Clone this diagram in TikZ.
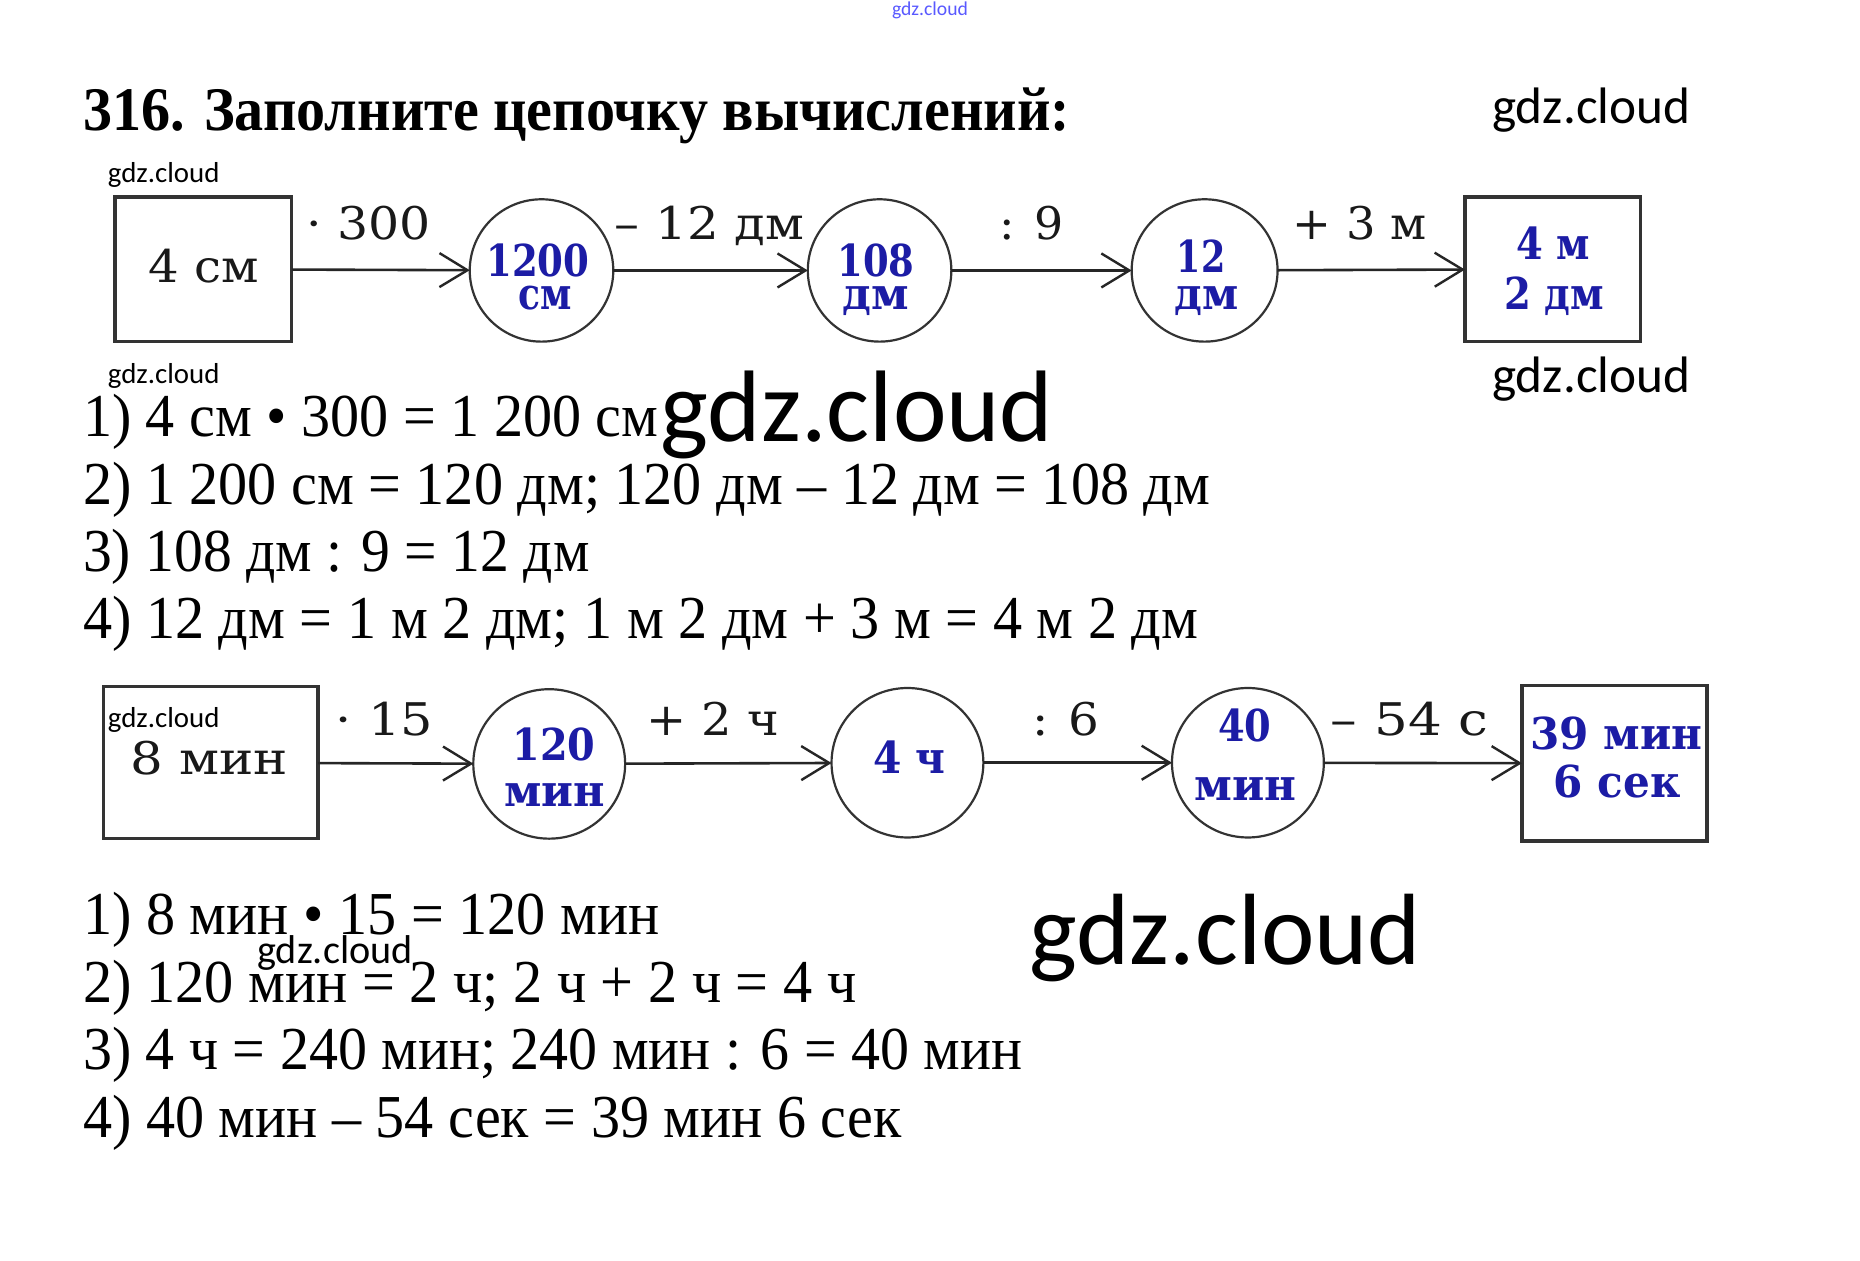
\documentclass[tikz,border=0pt]{standalone}
\usepackage{fontspec}
\usepackage{graphicx}
\setmainfont{Liberation Serif}
\newfontfamily\chainfont{DejaVu Serif}
\newfontfamily\wmfont{Carlito}
\usetikzlibrary{arrows.meta,shapes.geometric}
\newdimen\un \un=0.5931pt
\newcommand\fw[2]{\resizebox{#1\un}{\height}{#2}}
\newcommand\fwk[2]{\resizebox{#1\un}{!}{#2}}
\definecolor{valblue}{RGB}{28,28,165}
\tikzset{
 every node/.style={inner sep=0pt, outer sep=0pt},
 box/.style={draw=black!80, line width=1.6pt, rectangle},
 circ/.style={draw=black!80, line width=1.1pt, ellipse},
 arr/.style={draw=black!85, line width=1.3pt, -{Straight Barb[length=14pt,width=17pt,line width=1.2pt]}},
 calc/.style={anchor=base west, font=\fontsize{30.5}{30.5}\selectfont, text=black},
 lab/.style={anchor=base west, font=\chainfont\fontsize{22.5}{22.5}\selectfont, text=black!90},
 val/.style={anchor=base west, font=\chainfont\bfseries\fontsize{22}{22}\selectfont, text=valblue},
 wmk/.style={anchor=base west, font=\wmfont\fontsize{20}{20}\selectfont, text=black},
}
\begin{document}
\begin{tikzpicture}[x=\un, y=-\un]
\useasboundingbox[fill=white] (0,0) rectangle (1568,1063);

% title
\node[anchor=base west, font=\bfseries\fontsize{31}{31}\selectfont] (title) at (70,110) {\fw{832}{316. Заполните цепочку вычислений:}};

% ---- chain 1 ----
\node[box, minimum width=149\un, minimum height=122\un] (b1) at (171.5,227) {};
\node[circ, minimum width=121\un, minimum height=120\un] (c1) at (456.5,228) {};
\node[circ, minimum width=121\un, minimum height=120\un] (c2) at (741.5,228) {};
\node[circ, minimum width=123\un, minimum height=120\un] (c3) at (1015.5,228) {};
\node[box, minimum width=148\un, minimum height=122\un] (b2) at (1309,227) {};

\draw[arr] (b1) -- (c1);
\draw[arr] (c1) -- (c2);
\draw[arr] (c2) -- (c3);
\draw[arr] (c3) -- (b2);

\node[lab] (t1a) at (125,238) {\fw{93}{4 см}};
\node[lab] (l1a) at (258,202) {\fw{105}{· 300}};
\node[lab] (l1b) at (518,202) {\fw{160}{– 12 дм}};
\node[lab] (l1c) at (843,202) {\fw{54}{: 9}};
\node[lab] (l1d) at (1090,202) {\fw{113}{+ 3 м}};

\node[val] (v1a) at (410,233) {\fw{87}{1200}};
\node[val] (v1b) at (437,261) {\fw{45}{см}};
\node[val] (v2a) at (706,233) {\fw{65}{108}};
\node[val] (v2b) at (710,261) {\fw{56}{дм}};
\node[val] (v3a) at (992,230) {\fw{41}{12}};
\node[val] (v3b) at (990,261) {\fw{54}{дм}};
\node[val] (v4a) at (1278,219) {\fw{62}{4 м}};
\node[val] (v4b) at (1268,261) {\fw{84}{2 дм}};

% ---- calc 1 ----
\node[calc] (k1) at (70,368) {\fw{485}{1) 4 см • 300 = 1 200 см}};
\node[calc] (k2) at (70,425) {\fw{950}{2) 1 200 см = 120 дм; 120 дм – 12 дм = 108 дм}};
\node[calc] (k3) at (70,482) {\fw{427}{3) 108 дм : 9 = 12 дм}};
\node[calc] (k4) at (70,538) {\fw{940}{4) 12 дм = 1 м 2 дм; 1 м 2 дм + 3 м = 4 м 2 дм}};

% ---- chain 2 ----
\node[box, minimum width=181\un, minimum height=128\un] (d0) at (177.5,643) {};
\node[circ, minimum width=128\un, minimum height=126\un] (d1) at (463,644) {};
\node[circ, minimum width=128\un, minimum height=126\un] (d2) at (765,643) {};
\node[circ, minimum width=128\un, minimum height=126\un] (d3) at (1052,643) {};
\node[box, minimum width=156\un, minimum height=131\un] (d4) at (1361,643.5) {};

\draw[arr] (d0) -- (d1);
\draw[arr] (d1) -- (d2);
\draw[arr] (d2) -- (d3);
\draw[arr] (d3) -- (d4);

\node[lab] (t2a) at (110,653) {\fw{133}{8 мин}};
\node[lab] (l2a) at (283,620) {\fw{82}{· 15}};
\node[lab] (l2b) at (545,620) {\fw{112}{+ 2 ч}};
\node[lab] (l2c) at (870,620) {\fw{57}{: 6}};
\node[lab] (l2d) at (1122,620) {\fw{133}{– 54 с}};

\node[val] (u1a) at (432,641) {\fw{70}{120}};
\node[val] (u1b) at (425,680) {\fw{85}{мин}};
\node[val] (u2a) at (736,652) {\fw{61}{4 ч}};
\node[val] (u3a) at (1027,625) {\fw{45}{40}};
\node[val] (u3b) at (1007,675) {\fw{86}{мин}};
\node[val] (u4a) at (1290,632) {\fw{145}{39 мин}};
\node[val] (u4b) at (1310,672) {\fw{107}{6 сек}};

% ---- calc 2 ----
\node[calc] (m1) at (70,788) {\fw{486}{1) 8 мин • 15 = 120 мин}};
\node[calc] (m2) at (70,845) {\fw{652}{2) 120 мин = 2 ч; 2 ч + 2 ч = 4 ч}};
\node[calc] (m3) at (70,902) {\fw{792}{3) 4 ч = 240 мин; 240 мин : 6 = 40 мин}};
\node[calc] (m4) at (70,959) {\fw{690}{4) 40 мин – 54 сек = 39 мин 6 сек}};

% ---- watermarks ----
\node[wmk, text=blue!65] (w0) at (752,13) {\fwk{64}{gdz.cloud}};
\node[wmk] (w1) at (1258,104) {\fwk{167}{gdz.cloud}};
\node[wmk] (w2) at (91,154) {\fwk{94}{gdz.cloud}};
\node[wmk] (w3) at (91,323) {\fwk{94}{gdz.cloud}};
\node[wmk] (w4) at (1258,331) {\fwk{167}{gdz.cloud}};
\node[wmk] (w5) at (557,372) {\fwk{331}{gdz.cloud}};
\node[wmk] (w6) at (91,613) {\fwk{94}{gdz.cloud}};
\node[wmk] (w7) at (217,812) {\fwk{131}{gdz.cloud}};
\node[wmk] (w8) at (868,813) {\fwk{330}{gdz.cloud}};
\end{tikzpicture}
\end{document}
